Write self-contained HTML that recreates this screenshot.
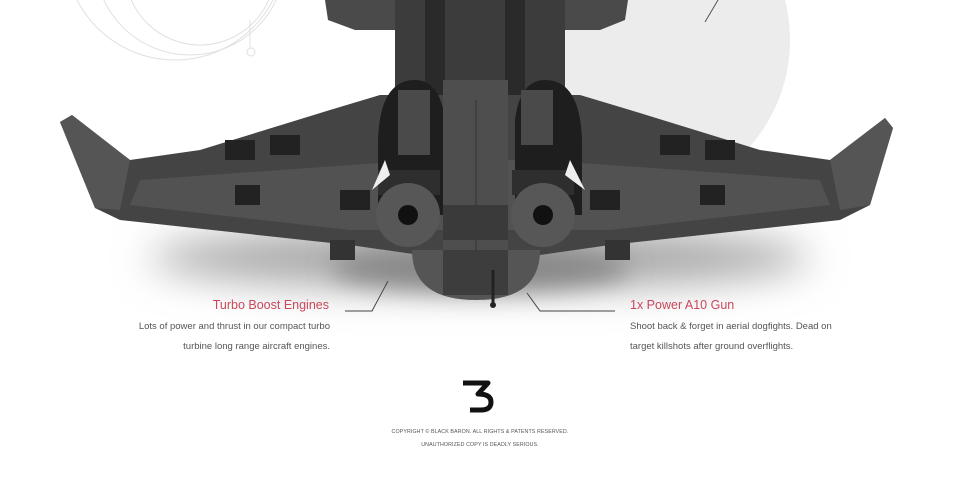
<!DOCTYPE html>
<html><head><meta charset="utf-8"><style>
html,body{margin:0;padding:0;background:#fff;width:960px;height:480px;overflow:hidden}
svg{position:absolute;left:0;top:0}
.t{position:absolute;font-family:"Liberation Sans Narrow","Liberation Sans",sans-serif;}
.h{color:#c9485b;font-size:12.5px}
.b{color:#555;font-size:9.5px;line-height:20px}
.c{color:#555;font-size:5.3px;letter-spacing:0.1px;text-align:center;width:960px;left:0}
</style></head><body>
<svg width="960" height="480" viewBox="0 0 960 480">
<defs>
<filter id="bl" filterUnits="userSpaceOnUse" x="0" y="150" width="960" height="250"><feGaussianBlur stdDeviation="20"/></filter>
<filter id="bl2" filterUnits="userSpaceOnUse" x="200" y="180" width="560" height="200"><feGaussianBlur stdDeviation="12"/></filter>
</defs>
<circle cx="628" cy="40" r="162" fill="#ececec"/>
<g fill="none" stroke="#e0e0e0" stroke-width="1">
<circle cx="190" cy="-40" r="95"/><circle cx="200" cy="-30" r="75"/><circle cx="175" cy="-50" r="110"/>
<circle cx="251" cy="52" r="4"/><line x1="250" y1="20" x2="250" y2="48"/>
</g>
<line x1="705" y1="22" x2="718" y2="0" stroke="#555" stroke-width="1"/>
<ellipse cx="480" cy="258" rx="330" ry="30" fill="#a5a5a5" filter="url(#bl)"/>
<ellipse cx="480" cy="268" rx="150" ry="22" fill="#888" filter="url(#bl2)"/>
<g>
<path d="M325 0 H628 L625 20 L600 30 H355 L328 20 Z" fill="#4a4a4a"/>
<rect x="395" y="0" width="170" height="120" fill="#3c3c3c"/>
<rect x="425" y="0" width="20" height="115" fill="#2a2a2a"/>
<rect x="505" y="0" width="20" height="115" fill="#2a2a2a"/>
<path d="M60 122 L72 115 L130 160 L200 150 L330 110 L380 95 L580 95 L630 110 L760 150 L830 160 L885 118 L893 128 L870 205 L840 220 L610 245 L540 255 L420 255 L350 245 L120 220 L95 208 Z" fill="#444"/>
<path d="M140 180 L420 160 L540 160 L820 180 L830 205 L610 230 L350 230 L130 205 Z" fill="#525252"/>
<g fill="#222">
<rect x="225" y="140" width="30" height="20"/><rect x="270" y="135" width="30" height="20"/>
<rect x="705" y="140" width="30" height="20"/><rect x="660" y="135" width="30" height="20"/>
<rect x="235" y="185" width="25" height="20"/><rect x="340" y="190" width="30" height="20"/>
<rect x="700" y="185" width="25" height="20"/><rect x="590" y="190" width="30" height="20"/>
</g>
<path d="M60 122 L72 115 L130 160 L120 210 L95 208 Z" fill="#555"/>
<path d="M885 118 L893 128 L870 205 L840 210 L830 160 Z" fill="#555"/>
<rect x="330" y="240" width="25" height="20" fill="#333"/><rect x="605" y="240" width="25" height="20" fill="#333"/>
<path d="M378 140 Q380 80 415 80 Q440 80 445 120 L445 215 L378 215 Z" fill="#1e1e1e"/>
<path d="M515 120 Q520 80 545 80 Q580 80 582 140 L582 215 L515 215 Z" fill="#1e1e1e"/>
<rect x="398" y="90" width="32" height="65" fill="#4a4a4a"/>
<rect x="521" y="90" width="32" height="55" fill="#4a4a4a"/>
<rect x="443" y="80" width="65" height="210" fill="#4e4e4e"/>
<line x1="476" y1="100" x2="476" y2="280" stroke="#333"/>
<rect x="443" y="205" width="65" height="35" fill="#3a3a3a"/>
<path d="M412 250 H540 Q540 300 476 300 Q412 300 412 250 Z" fill="#555"/>
<rect x="443" y="250" width="65" height="45" fill="#3d3d3d"/>
<line x1="493" y1="270" x2="493" y2="303" stroke="#222" stroke-width="3"/>
<circle cx="493" cy="305" r="3" fill="#222"/>
<rect x="378" y="170" width="62" height="25" fill="#2e2e2e"/>
<rect x="512" y="170" width="62" height="25" fill="#2e2e2e"/>
<circle cx="408" cy="215" r="32" fill="#575757"/>
<circle cx="543" cy="215" r="32" fill="#575757"/>
<circle cx="408" cy="215" r="10" fill="#111"/>
<circle cx="543" cy="215" r="10" fill="#111"/>
<path d="M385 160 L372 190 L390 175 Z" fill="#eee"/>
<path d="M570 160 L585 190 L565 175 Z" fill="#eee"/>
</g>
<polyline points="345,311 372,311 388,281" fill="none" stroke="#444" stroke-width="1"/>
<polyline points="527,293 540,311 615,311" fill="none" stroke="#444" stroke-width="1"/>
<path d="M463 383 H488 L478 394 Q491 394 491 402 Q491 410 481 410 H470" fill="none" stroke="#111" stroke-width="5" stroke-linejoin="round"/>
</svg>
<div class="t h" style="right:631px;top:298px">Turbo Boost Engines</div>
<div class="t b" style="right:630px;top:317px;text-align:right">Lots of power and thrust in our compact turbo<br>turbine long range aircraft engines.</div>
<div class="t h" style="left:630px;top:298px">1x Power A10 Gun</div>
<div class="t b" style="left:630px;top:317px">Shoot back &amp; forget in aerial dogfights. Dead on<br>target killshots after ground overflights.</div>
<div class="t c" style="top:429px">COPYRIGHT © BLACK BARON. ALL RIGHTS &amp; PATENTS RESERVED.</div>
<div class="t c" style="top:442px">UNAUTHORIZED COPY IS DEADLY SERIOUS.</div>
</body></html>
